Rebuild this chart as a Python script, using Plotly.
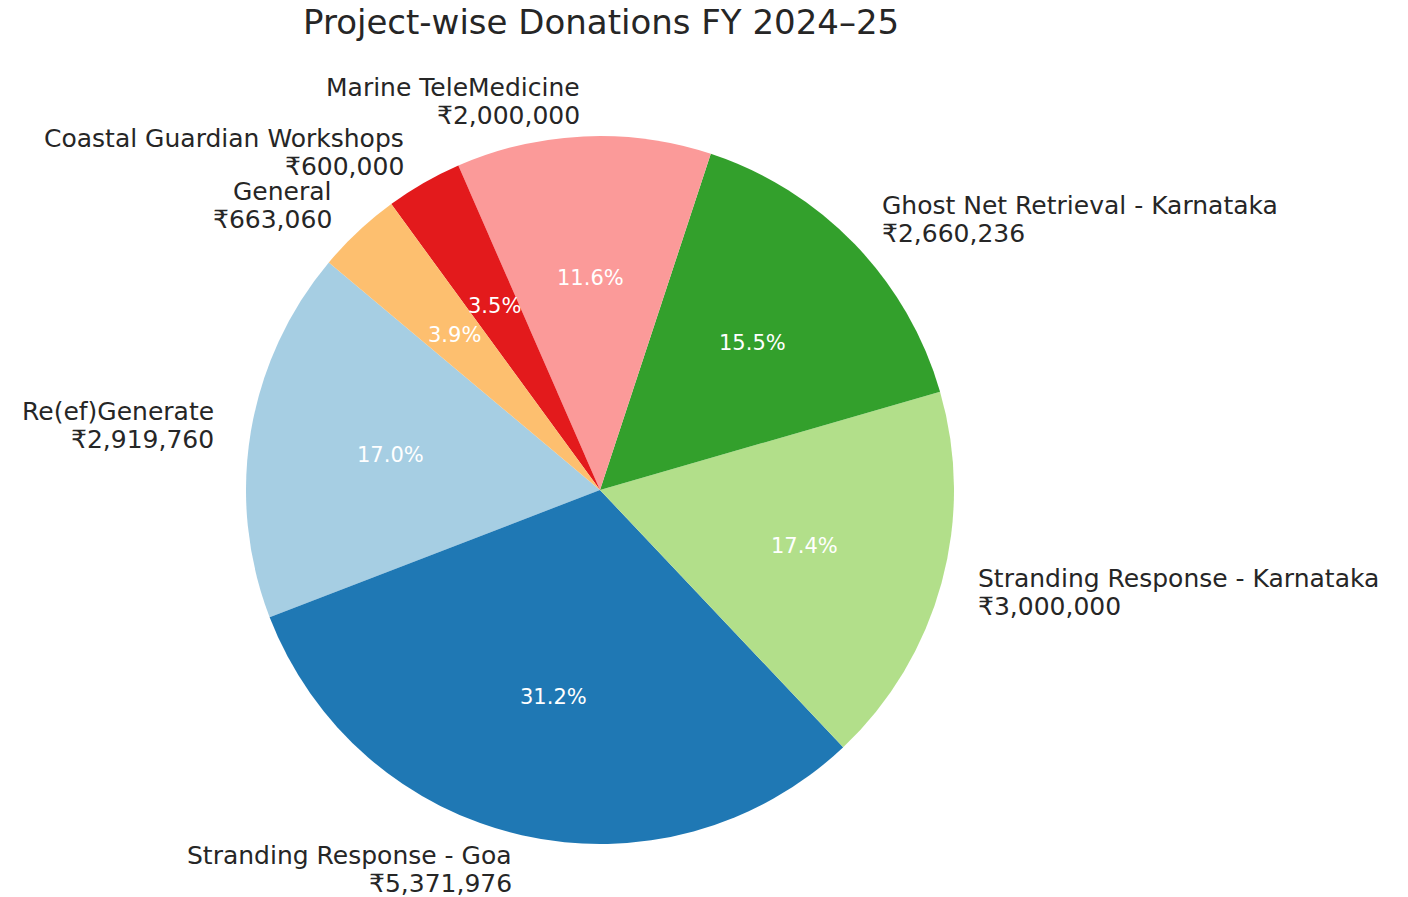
import math
import plotly.graph_objects as go

projects = ["Re(ef)Generate", "Stranding Response - Goa", "Stranding Response - Karnataka",
            "Ghost Net Retrieval - Karnataka", "Marine TeleMedicine",
            "Coastal Guardian Workshops", "General"]
amounts = [2919760, 5371976, 3000000, 2660236, 2000000, 600000, 663060]
colors = ["#a6cee3", "#1f78b4", "#b2df8a", "#33a02c", "#fb9a99", "#e31a1c", "#fdbf6f"]
title = "Project-wise Donations FY 2024–25"

W, H = 1408, 897
CX, CY, R = 600, 490, 354
START = 140  # degrees, counterclockwise like matplotlib
LINE = 28    # px between the two lines of an outer label

total = sum(amounts)
# plotly's counterclockwise pies start the first slice at rotation + its own size
rotation = 90 - (START + 360 * amounts[0] / total)

fig = go.Figure(go.Pie(
    labels=projects, values=amounts, sort=False, direction="counterclockwise",
    rotation=rotation, marker=dict(colors=colors, line=dict(width=0)),
    textinfo="none", hoverinfo="label+value+percent", showlegend=False,
    domain=dict(x=[(CX - R) / W, (CX + R) / W], y=[(H - CY - R) / H, (H - CY + R) / H]),
))

ann = []
cum = 0.0
font = "DejaVu Sans"
for name, v in zip(projects, amounts):
    a0 = START + 360 * cum / total
    cum += v
    a1 = START + 360 * cum / total
    mid = math.radians((a0 + a1) / 2)
    c, s = math.cos(mid), math.sin(mid)
    # outer label (two lines, matplotlib-like spacing)
    lx, ly = CX + 1.1 * R * c, CY - 1.1 * R * s
    side = "left" if c > 0 else "right"
    for txt, dy in ((name, -LINE / 2), (f"₹{v:,}", LINE / 2)):
        ann.append(dict(x=lx / W, y=1 - (ly + dy) / H, xref="paper", yref="paper",
                        showarrow=False, text=txt, xanchor=side, yanchor="middle", align=side,
                        font=dict(family=font, size=25, color="#262626")))
    # percent label
    px, py = CX + 0.6 * R * c, CY - 0.6 * R * s
    ann.append(dict(x=px / W, y=1 - py / H, xref="paper", yref="paper", showarrow=False,
                    text=f"{100 * v / total:.1f}%", xanchor="center", yanchor="middle",
                    font=dict(family=font, size=21, color="white")))

ann.append(dict(x=601 / W, y=1 - 22 / H, xref="paper", yref="paper",
                showarrow=False, text=title, xanchor="center", yanchor="middle",
                font=dict(family=font, size=34, color="#262626")))

fig.update_layout(
    width=W, height=H, margin=dict(l=0, r=0, t=0, b=0),
    paper_bgcolor="white", plot_bgcolor="white",
    annotations=ann,
)
fig.write_html("out.html", config={"displayModeBar": False},
               post_script="document.body.style.margin='0';document.body.style.overflow='hidden';")
